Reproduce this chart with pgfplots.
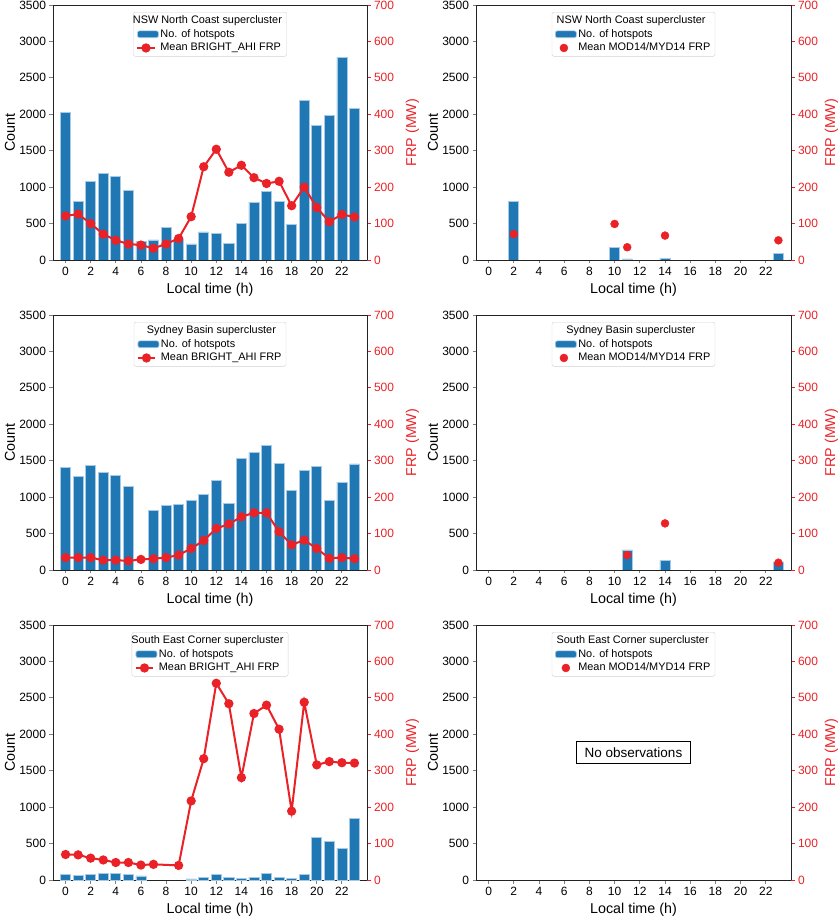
\documentclass[border=0pt]{standalone}
\usepackage{fontspec}
\setmainfont{Liberation Sans}
\usepackage{pgfplots}
\pgfplotsset{compat=1.18}

\definecolor{barblue}{RGB}{31,119,180}
\definecolor{baredge}{RGB}{168,202,228}
\definecolor{frpred}{RGB}{234,34,40}
\definecolor{spine}{RGB}{35,35,35}

\newcommand\labfont{\fontsize{14.3}{17}\selectfont}

\pgfplotsset{
  panel/.style={
    width=314pt, height=255pt, scale only axis,
    anchor=south west,
    xmin=-1, xmax=24,
    /pgf/number format/assume math mode=true,
    /pgf/number format/1000 sep={},
    scaled y ticks=false,
    tick label style={font=\fontsize{12}{14}\selectfont},
    tick align=outside,
    major tick length=3.5pt,
    major tick style={line width=0.8pt},
    axis line style={line width=0.8pt, spine},
  },
  countax/.style={
    panel,
    ymin=0, ymax=3500, ytick={0,500,...,3500},
    xtick={0,2,...,22},
    xtick pos=bottom, ytick pos=left,
    xlabel={Local time (h)}, ylabel={Count},
    every axis y label/.style={at={(axis description cs:-0.137,0.5)}, rotate=90, anchor=center, font=\labfont},
    every axis x label/.style={at={(axis description cs:0.5,-0.118)}, anchor=center, font=\labfont},
  },
  frpax/.style={
    panel,
    ymin=0, ymax=700, ytick={0,100,...,700},
    axis y line*=right, axis x line=none,
    ylabel={FRP (MW)}, frplabel=1.145,
    yticklabel style={frpred},
    tick style={frpred},
    legend cell align=left,
    legend style={at={(0.5,0.9725)}, anchor=north, draw=black!18, rounded corners=2pt,
      fill=white, font=\fontsize{10.9}{12}\selectfont,
      inner xsep=3pt, inner ysep=1.5pt, row sep=0pt,
      nodes={inner sep=1.6pt, text height=8.2pt, text depth=2.3pt}},
  },
  frplabel/.style={every axis y label/.style={at={(axis description cs:#1,0.5)},
      rotate=90, anchor=center, font=\labfont, text=frpred}},
  barlegend/.style={legend image code/.code={
      \draw[fill=barblue, draw=baredge, line width=0.7pt] (0pt,-3.4pt) rectangle (21pt,3.4pt);}},
  linelegend/.style={legend image code/.code={
      \draw[frpred, line width=2pt] (0pt,0pt) -- (21pt,0pt);
      \fill[frpred] (10.5pt,0pt) circle (3.6pt);}},
  dotlegend/.style={legend image code/.code={
      \fill[frpred] (10.5pt,0pt) circle (4pt);}},
  hotbars/.style={ybar, bar width=0.8, fill=barblue, draw=baredge, line width=0.7pt},
  frpline/.style={frpred, line width=2pt, mark=*, mark size=3.6pt, mark options={fill=frpred, draw=none}},
  frpdots/.style={only marks, mark=*, mark size=4pt, frpred, mark options={fill=frpred, draw=none}},
}

\begin{document}
\begin{tikzpicture}
\useasboundingbox (0,0) rectangle (840pt,918pt);

% ---------- NSW North Coast, BRIGHT_AHI ----------
\begin{axis}[countax, at={(53pt,658pt)}]
\addplot[hotbars] coordinates {
  (0,2020) (1,800) (2,1075) (3,1190) (4,1150) (5,960) (6,255) (7,275)
  (8,450) (9,280) (10,220) (11,385) (12,365) (13,230) (14,500) (15,795)
  (16,940) (17,805) (18,490) (19,2195) (20,1850) (21,1990) (22,2780) (23,2085)};
\end{axis}
\begin{axis}[frpax, at={(53pt,658pt)}]
\addlegendimage{empty legend}\addlegendentry{\hspace*{-27.5pt}NSW North Coast supercluster}
\addlegendimage{barlegend}\addlegendentry{No. of hotspots}
\addplot[frpline] coordinates {
  (0,121) (1,126) (2,100) (3,71) (4,54) (5,44) (6,41) (7,32)
  (8,44) (9,59) (10,119) (11,256) (12,304) (13,241) (14,260) (15,226)
  (16,210) (17,216) (18,149) (19,200) (20,144) (21,105) (22,125) (23,118)};
\addlegendimage{linelegend}\addlegendentry{Mean BRIGHT\_AHI FRP}
\end{axis}

% ---------- NSW North Coast, MOD14/MYD14 ----------
\begin{axis}[countax, at={(476pt,658pt)}, width=315pt]
\addplot[hotbars] coordinates {(2,805) (10,175) (11,15) (14,25) (23,85)};
\end{axis}
\begin{axis}[frpax, frplabel=1.128, at={(476pt,658pt)}, width=315pt]
\addlegendimage{empty legend}\addlegendentry{\hspace*{-21.7pt}NSW North Coast supercluster}
\addlegendimage{barlegend}\addlegendentry{No. of hotspots}
\addplot[frpdots] coordinates {(2,71) (10,99) (11,35) (14,67) (23,54)};
\addlegendimage{dotlegend}\addlegendentry{Mean MOD14/MYD14 FRP}
\end{axis}

% ---------- Sydney Basin, BRIGHT_AHI ----------
\begin{axis}[countax, at={(53pt,348pt)}]
\addplot[hotbars] coordinates {
  (0,1410) (1,1280) (2,1430) (3,1335) (4,1295) (5,1145) (7,820)
  (8,890) (9,905) (10,960) (11,1040) (12,1225) (13,915) (14,1535) (15,1615)
  (16,1705) (17,1465) (18,1090) (19,1370) (20,1420) (21,955) (22,1205) (23,1455)};
\end{axis}
\begin{axis}[frpax, at={(53pt,348pt)}]
\addlegendimage{empty legend}\addlegendentry{\hspace*{-14pt}Sydney Basin supercluster}
\addlegendimage{barlegend}\addlegendentry{No. of hotspots}
\addplot[frpline] coordinates {
  (0,34) (1,34) (2,34) (3,27) (4,27) (5,25) (6,29) (7,31)
  (8,34) (9,41) (10,59) (11,81) (12,114) (13,126) (14,146) (15,157)
  (16,157) (17,105) (18,69) (19,82) (20,59) (21,32) (22,34) (23,31)};
\addlegendimage{linelegend}\addlegendentry{Mean BRIGHT\_AHI FRP}
\end{axis}

% ---------- Sydney Basin, MOD14/MYD14 ----------
\begin{axis}[countax, at={(476pt,348pt)}, width=315pt]
\addplot[hotbars] coordinates {(11,275) (14,130) (23,110)};
\end{axis}
\begin{axis}[frpax, frplabel=1.128, at={(476pt,348pt)}, width=315pt]
\addlegendimage{empty legend}\addlegendentry{\hspace*{-12pt}Sydney Basin supercluster}
\addlegendimage{barlegend}\addlegendentry{No. of hotspots}
\addplot[frpdots] coordinates {(11,41) (14,128) (23,20)};
\addlegendimage{dotlegend}\addlegendentry{Mean MOD14/MYD14 FRP}
\end{axis}

% ---------- South East Corner, BRIGHT_AHI ----------
\begin{axis}[countax, at={(53pt,38pt)}]
\addplot[hotbars] coordinates {
  (0,82) (1,64) (2,82) (3,96) (4,92) (5,78) (6,55)
  (10,14) (11,37) (12,73) (13,41) (14,27) (15,41)
  (16,92) (17,32) (18,23) (19,73) (20,586) (21,528) (22,439) (23,850)};
\end{axis}
\begin{axis}[frpax, at={(53pt,38pt)}]
\addlegendimage{empty legend}\addlegendentry{\hspace*{-27.5pt}South East Corner supercluster}
\addlegendimage{barlegend}\addlegendentry{No. of hotspots}
\addplot[frpline] coordinates {
  (0,70) (1,69) (2,60) (3,55) (4,48) (5,48) (6,41) (7,43)
  (9,40) (10,217) (11,333) (12,540) (13,484) (14,281) (15,457)
  (16,480) (17,414) (18,189) (19,488) (20,316) (21,325) (22,322) (23,321)};
\addlegendimage{linelegend}\addlegendentry{Mean BRIGHT\_AHI FRP}
\end{axis}

% ---------- South East Corner, MOD14/MYD14 ----------
\begin{axis}[countax, at={(476pt,38pt)}, width=315pt]
\node[draw=black, line width=0.8pt, fill=white, inner xsep=8pt, inner ysep=6pt,
  font=\fontsize{13.5}{16}\selectfont] at (axis description cs:0.5,0.5) {No observations};
\end{axis}
\begin{axis}[frpax, frplabel=1.128, at={(476pt,38pt)}, width=315pt]
\addlegendimage{empty legend}\addlegendentry{\hspace*{-21.7pt}South East Corner supercluster}
\addlegendimage{barlegend}\addlegendentry{No. of hotspots}
\addlegendimage{dotlegend}\addlegendentry{Mean MOD14/MYD14 FRP}
\end{axis}

\end{tikzpicture}
\end{document}
